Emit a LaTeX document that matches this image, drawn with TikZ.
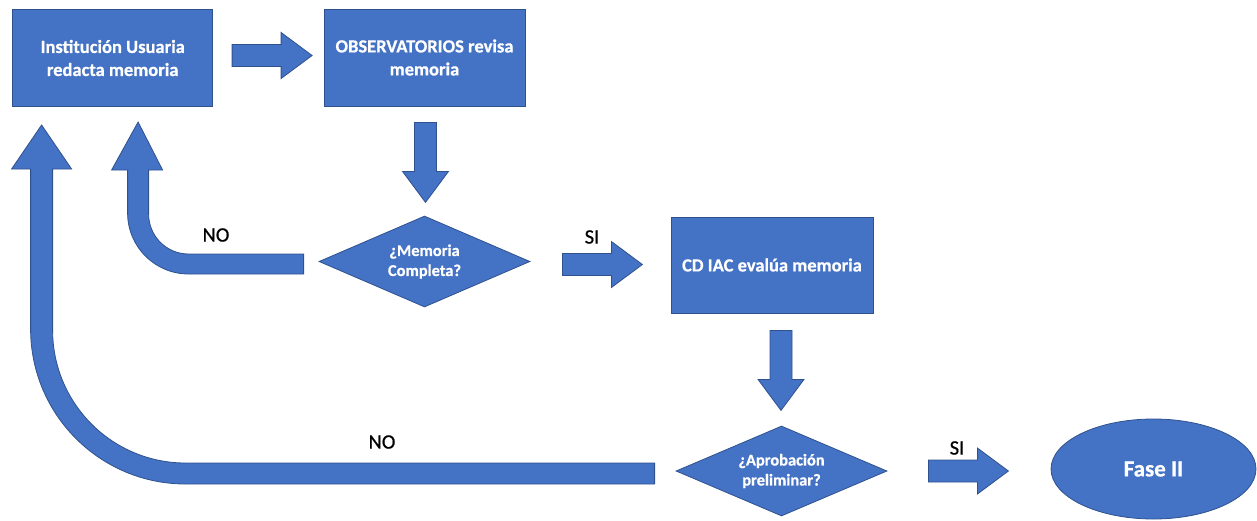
\documentclass[tikz,border=0pt]{standalone}
\usepackage{fontspec}
\setmainfont{Carlito}[FakeBold=0.7]
\usetikzlibrary{shapes.geometric,calc}
\definecolor{ofblue}{HTML}{4472C4}
\definecolor{ofedge}{HTML}{2F528F}
\begin{document}
\begin{tikzpicture}[x=1pt,y=-1pt,
  shp/.style={fill=ofblue,draw=ofedge,line width=0.8pt},
  box/.style={shp,rectangle,inner sep=0pt,text=white,align=center,font=\fontsize{18.5}{23}\selectfont\bfseries},
  dia/.style={shp,diamond,aspect=2.32,inner sep=0pt,text=white,align=center,font=\fontsize{16.4}{20}\selectfont\bfseries},
  lbl/.style={text=black,inner sep=0pt,font=\fontsize{20.5}{24}\selectfont},
  barrow/.style={shp,line join=miter},
  rarrow/.pic={\path[barrow] (0,-11) -- (49,-11) -- (49,-23) -- (80,0) -- (49,23) -- (49,11) -- (0,11) -- cycle;},
  darrow/.pic={\path[barrow] (-11,0) -- (-11,49) -- (-23,49) -- (0,80) -- (23,49) -- (11,49) -- (11,0) -- cycle;},
]
\useasboundingbox (0,0) rectangle (1257,520);

% process boxes
\node[box,minimum width=200pt,minimum height=97pt] (b1) at (112.7,58) {Institución Usuaria\\redacta memoria};
\node[box,minimum width=201pt,minimum height=97pt] (b2) at (424.5,57.5) {OBSERVATORIOS revisa\\memoria};
\node[dia,minimum width=211pt,minimum height=91pt] (d1) at (424.5,261.5) {¿Memoria\\Completa?};
\node[box,minimum width=202pt,minimum height=96pt] (b3) at (772,265) {CD IAC evalúa memoria};
\node[dia,minimum width=211pt,minimum height=90pt] (d2) at (781.5,471) {¿Aprobación\\preliminar?};
\node[shp,ellipse,inner sep=0pt,minimum width=205pt,minimum height=100pt,text=white,font=\fontsize{23}{27}\selectfont\bfseries] (f2) at (1153.5,469) {Fase II};

% straight block arrows
\pic at ($(b1.east)+(19,-2.5)$) {rarrow};
\pic at ($(b2.south)+(1,16)$) {darrow};
\pic at ($(d1.east)+(32,3)$) {rarrow};
\pic at ($(b3.south)+(9,17)$) {darrow};
\pic at ($(d2.east)+(41,0)$) {rarrow};

% bent NO arrows
\coordinate (n1s) at ($(d1.west)+(-15,2.5)$);
\path[barrow] (n1s) ++(0,-10) -- ++(-115,0)
  .. controls +(-22.1,0) and +(0,22.1) .. ++(-40,-40)
  -- ++(0,-44) -- ++(14,0) -- ++(-24.5,-48) -- ++(-26.5,48) -- ++(16,0)
  -- ++(0,43)
  .. controls +(0,33.7) and +(-33.7,0) .. ++(61,61)
  -- ++(115,0) -- cycle;

\coordinate (n2s) at ($(d2.west)+(-21,2.5)$);
\path[barrow] (n2s) ++(0,-10.5) -- ++(-469,0)
  .. controls +(-73.5,0) and +(0,73.5) .. ++(-133,-133)
  -- ++(0,-161) -- ++(19,0) -- ++(-30,-44) -- ++(-30,44) -- ++(19,0)
  -- ++(0,160)
  .. controls +(0,85.6) and +(-85.6,0) .. ++(155,155)
  -- ++(469,0) -- cycle;

% labels
\node[lbl] (no1) at (216,235) {NO};
\node[lbl] (si1) at (592,237) {SI};
\node[lbl] (no2) at (382,442) {NO};
\node[lbl] (si2) at (957,448) {SI};
\end{tikzpicture}
\end{document}
